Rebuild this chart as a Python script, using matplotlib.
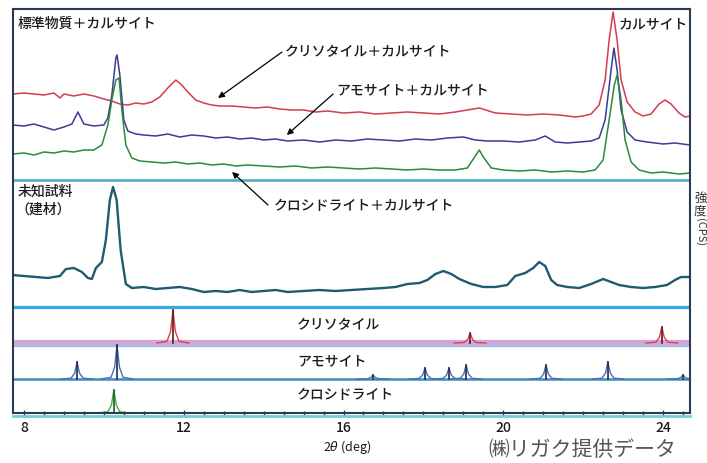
import matplotlib.pyplot as plt
from matplotlib.ticker import MultipleLocator

plt.rcParams["font.family"] = ["Noto Sans CJK JP", "DejaVu Sans"]

# ---- data (2theta in deg, intensity in arbitrary offset units) ----
red_x = [7.72, 8.0, 8.25, 8.5, 8.75, 8.9, 9.0, 9.25, 9.5, 9.75, 10.0, 10.2, 10.4, 10.6,
         10.8, 11.0, 11.2, 11.4, 11.6, 11.8, 11.95, 12.1, 12.3, 12.5, 12.7, 12.9, 13.2,
         13.5, 13.8, 14.1, 14.4, 14.7, 15.0, 15.3, 15.6, 16.0, 16.4, 16.8, 17.2, 17.6,
         18.0, 18.4, 18.8, 19.4, 19.8, 20.2, 20.6, 21.0, 21.4, 21.8, 22.0, 22.2, 22.4,
         22.55, 22.65, 22.75, 22.85, 22.95, 23.1, 23.3, 23.5, 23.7, 23.9, 24.05, 24.2,
         24.4, 24.55, 24.68]
red_y = [319, 320, 319, 318, 320, 315, 319, 317, 319, 317, 314, 312, 309, 308,
         310, 309, 311, 316, 325, 333, 328, 321, 313, 310, 308, 307, 307,
         306, 305, 306, 304, 303, 303, 301, 302, 300, 301, 299, 300, 301,
         300, 299, 301, 305, 300, 299, 298, 299, 298, 296, 297, 299, 308,
         333, 373, 401, 373, 333, 311, 301, 297, 299, 309, 313, 309,
         300, 296, 297]

blue_x = [7.72, 8.0, 8.25, 8.5, 8.75, 9.0, 9.2, 9.35, 9.5, 9.75, 10.0, 10.1, 10.2, 10.3,
          10.33, 10.4, 10.5, 10.6, 10.8, 11.0, 11.3, 11.6, 11.9, 12.2, 12.5, 12.8, 13.1,
          13.4, 13.7, 14.0, 14.3, 14.6, 15.0, 15.4, 15.8, 16.2, 16.6, 17.0, 17.4, 17.8,
          18.2, 18.6, 19.0, 19.3, 19.6, 20.0, 20.4, 20.8, 21.05, 21.3, 21.6, 21.9, 22.2,
          22.4, 22.55, 22.7, 22.77, 22.85, 22.95, 23.1, 23.3, 23.6, 24.0, 24.3, 24.68]
blue_y = [288, 287, 289, 286, 283, 286, 289, 301, 289, 287, 288, 295, 318, 355,
          358, 338, 293, 282, 279, 278, 277, 279, 276, 278, 277, 275, 276,
          274, 275, 273, 274, 272, 273, 271, 273, 272, 274, 273, 272, 274,
          273, 275, 276, 273, 272, 272, 271, 273, 277, 271, 270, 271, 272,
          275, 293, 343, 365, 343, 303, 281, 273, 271, 269, 270, 268]

green_x = [7.72, 8.0, 8.25, 8.5, 8.75, 9.0, 9.25, 9.5, 9.75, 9.95, 10.1, 10.2, 10.3, 10.38,
           10.45, 10.55, 10.7, 10.9, 11.2, 11.5, 11.8, 12.1, 12.4, 12.7, 13.0, 13.3, 13.6,
           14.0, 14.4, 14.8, 15.2, 15.6, 16.0, 16.4, 16.8, 17.2, 17.6, 18.0, 18.4, 18.8,
           19.1, 19.3, 19.4, 19.5, 19.7, 20.0, 20.4, 20.8, 21.2, 21.6, 22.0, 22.3, 22.5,
           22.65, 22.78, 22.85, 22.95, 23.05, 23.2, 23.4, 23.7, 24.0, 24.4, 24.68]
green_y = [259, 260, 258, 261, 260, 262, 261, 263, 263, 268, 288, 313, 333, 335,
           303, 268, 255, 252, 251, 250, 251, 249, 250, 248, 249, 247, 248,
           247, 246, 247, 245, 246, 245, 244, 245, 244, 243, 244, 243, 243,
           245, 257, 263, 256, 245, 243, 242, 243, 241, 242, 241, 243, 253,
           293, 328, 338, 313, 273, 251, 243, 240, 241, 239, 240]

unk_x = [7.72, 8.0, 8.3, 8.6, 8.9, 9.05, 9.25, 9.45, 9.6, 9.7, 9.8, 9.95, 10.05, 10.15,
         10.23, 10.32, 10.42, 10.55, 10.7, 11.0, 11.3, 11.6, 11.9, 12.2, 12.5, 12.8, 13.1,
         13.4, 13.7, 14.0, 14.3, 14.6, 15.0, 15.4, 15.8, 16.2, 16.6, 17.0, 17.3, 17.6,
         17.9, 18.1, 18.3, 18.5, 18.7, 18.9, 19.2, 19.5, 19.8, 20.1, 20.3, 20.55, 20.75,
         20.9, 21.05, 21.2, 21.35, 21.6, 21.9, 22.2, 22.5, 22.7, 22.9, 23.2, 23.5, 23.8,
         24.1, 24.3, 24.45, 24.68]
unk_y = [138, 137, 136, 135, 137, 144, 145, 141, 135, 134, 145, 151, 173, 213,
         226, 213, 163, 129, 125, 126, 124, 125, 126, 124, 121, 122, 121,
         123, 121, 122, 123, 121, 122, 123, 122, 123, 124, 125, 126, 129,
         130, 133, 139, 142, 139, 134, 129, 126, 126, 128, 137, 140, 145,
         151, 147, 133, 128, 126, 125, 129, 134, 131, 128, 126, 125, 126,
         128, 133, 136, 136]

# reference patterns: peak positions and heights above each baseline
chry_pos = [11.73, 19.17, 23.97]
chry_h = [33, 10, 16]
amos_pos = [9.33, 10.33, 16.74, 18.04, 18.64, 19.07, 21.07, 22.62, 24.5]
amos_h = [17, 34, 4, 11, 11, 14, 14, 17, 4]
croc_pos = [10.25]
croc_h = [23]

W, H = 707, 463
fig = plt.figure(figsize=(W / 100, H / 100), dpi=100)
ax = fig.add_axes([13 / W, 50 / H, 677 / W, 404 / H])
ax.set_xlim(7.725, 24.675)
ax.set_ylim(0, 404)

# panel separators
ax.axhline(233, color="#4aa8bd", lw=1.8)
ax.axhline(106, color="#3fa9d9", lw=2.4)
ax.axhline(70, color="#cfa6d6", lw=4.5)
ax.axhline(67.5, color="#8cc4e6", lw=1.0)
ax.axhline(34, color="#3f8fc0", lw=1.8)

# standards + unknown
ax.plot(red_x, red_y, color="#d23c50", lw=1.1)
ax.plot(blue_x, blue_y, color="#3b3c94", lw=1.1)
ax.plot(green_x, green_y, color="#2a8a3a", lw=1.1)
ax.plot(unk_x, unk_y, color="#1d5c70", lw=1.7)

# reference sticks
shape_dx = [-0.4, -0.15, -0.06, 0, 0.06, 0.15, 0.4]
shape_f = [0, 0.05, 0.35, 1, 0.35, 0.05, 0]


def sticks(pos, heights, base, color, dark):
    for p, h in zip(pos, heights):
        ax.plot([p + d for d in shape_dx], [base + f * h for f in shape_f],
                color=color, lw=1.0)
        ax.plot([p, p], [base, base + h], color=dark, lw=1.2)


sticks(chry_pos, chry_h, 70, "#e0404a", "#5a1a20")
sticks(amos_pos, amos_h, 34, "#4d6fae", "#1c2b55")
sticks(croc_pos, croc_h, 0, "#3cb043", "#1d5a22")

# labels
tkw = dict(fontsize=10, color="#1a1a1a", va="center", ha="left", fontweight="medium")
ax.text(7.85, 389, "標準物質＋カルサイト", **tkw)
ax.text(22.90, 389, "カルサイト", **tkw)
ax.text(14.52, 361, "クリソタイル＋カルサイト", **tkw)
ax.text(15.83, 323, "アモサイト＋カルサイト", **tkw)
ax.text(14.25, 207, "クロシドライト＋カルサイト", **tkw)
ax.text(7.85, 221, "未知試料", **tkw)
ax.text(7.78, 203, "（建材）", **tkw)
ax.text(14.84, 88, "クリソタイル", **tkw)
ax.text(14.84, 52, "アモサイト", **tkw)
ax.text(14.84, 18, "クロシドライト", **tkw)

akw = dict(arrowstyle="-|>", color="black", lw=0.9, mutation_scale=9,
           shrinkA=0, shrinkB=0)
ax.annotate("", xy=(12.86, 315), xytext=(14.46, 361), arrowprops=akw)
ax.annotate("", xy=(14.58, 278), xytext=(15.74, 319), arrowprops=akw)
ax.annotate("", xy=(13.21, 241), xytext=(14.11, 208), arrowprops=akw)

# axes styling
for s in ax.spines.values():
    s.set_color("#2b3a4e")
    s.set_linewidth(1.5)
ax.axhline(-3, color="#6fd0dc", lw=2, clip_on=False)
ax.set_yticks([])
ax.set_xticks([8, 12, 16, 20, 24])
ax.xaxis.set_minor_locator(MultipleLocator(0.5))
ax.tick_params(axis="x", which="both", direction="inout", color="#2b3a4e",
               length=4, width=1, labelsize=10, labelcolor="#1a1a1a", pad=4)
ax.tick_params(axis="x", which="minor", length=3)
for lab in ax.get_xticklabels():
    lab.set_fontweight("medium")
ax.set_xlabel("2$\\theta$ (deg)", fontsize=9, color="#1a1a1a")
ax.xaxis.set_label_coords(0.4934, -0.062)

fig.text(694 / W, 1 - 205 / H, "強\n度", fontsize=9, color="#333333",
         ha="left", va="center", linespacing=0.95)
fig.text(695 / W, 1 - 232 / H, "(CPS)", fontsize=8, color="#333333",
         ha="left", va="center", rotation=270)
fig.text(488 / W, 1 - 461 / H, "㈱リガク提供データ", fontsize=15, color="#555555",
         ha="left", va="bottom")

fig.savefig("out.png", dpi=100)
